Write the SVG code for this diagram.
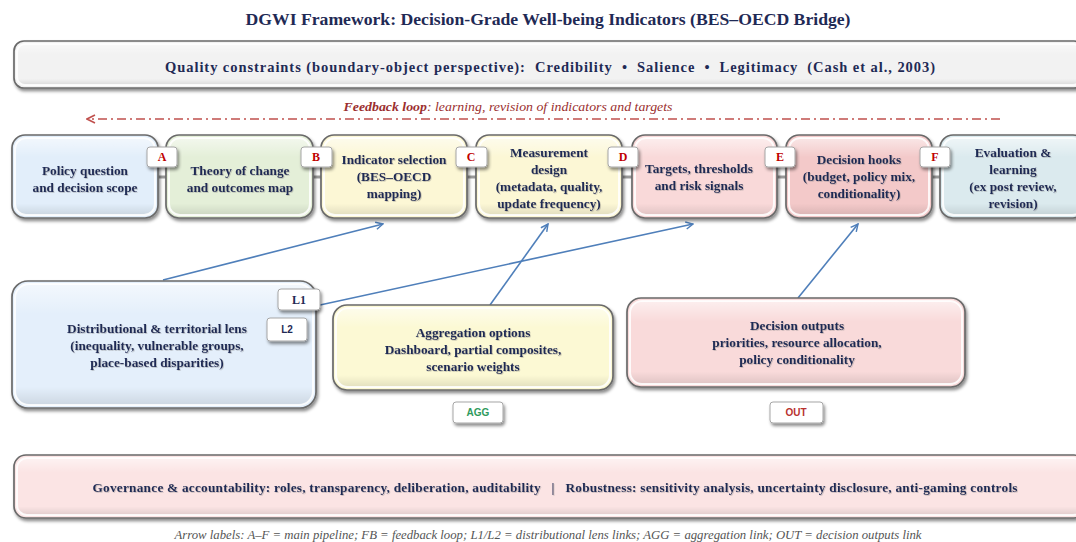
<svg xmlns="http://www.w3.org/2000/svg" width="1076" height="542" viewBox="0 0 1076 542">
  <defs>
    <filter id="shadow" x="-10%" y="-20%" width="125%" height="150%">
      <feDropShadow dx="1.5" dy="2.5" stdDeviation="1.8" flood-color="#000" flood-opacity="0.45"/>
    </filter>
    <filter id="tshadow" x="-5%" y="-20%" width="110%" height="150%">
      <feDropShadow dx="0.8" dy="0.8" stdDeviation="0.4" flood-color="#7a7a7a" flood-opacity="0.45"/>
    </filter>
    <linearGradient id="gloss" x1="0" y1="0" x2="0" y2="1">
      <stop offset="0" stop-color="#fff" stop-opacity="0.55"/>
      <stop offset="0.25" stop-color="#fff" stop-opacity="0"/>
      <stop offset="0.85" stop-color="#000" stop-opacity="0"/>
      <stop offset="1" stop-color="#000" stop-opacity="0.10"/>
    </linearGradient>
    <marker id="arrBlue" viewBox="0 0 10 10" refX="9" refY="5" markerWidth="9" markerHeight="9" markerUnits="userSpaceOnUse" orient="auto">
      <path d="M1,1 L9,5 L1,9" fill="none" stroke="#4f7fba" stroke-width="1.6"/>
    </marker>
    <marker id="arrRed" viewBox="0 0 10 10" refX="9" refY="5" markerWidth="10" markerHeight="10" markerUnits="userSpaceOnUse" orient="auto">
      <path d="M1,1 L9,5 L1,9" fill="none" stroke="#c0504d" stroke-width="1.6"/>
    </marker>
  </defs>
  <style>
    .box { stroke: #6a6a6a; stroke-width: 1.7; filter: url(#shadow); }
    .hl { fill: url(#gloss); stroke: #ffffff; stroke-opacity: 0.85; stroke-width: 2; }
    .t { font-family: "Liberation Serif", "Times New Roman", serif; font-weight: bold; fill: #1f2a55; text-anchor: middle; white-space: pre; }
    .bt { font-size: 13.3px; filter: url(#tshadow); }
    .tag { fill: #ffffff; stroke: #a6a6a6; stroke-width: 1; filter: url(#shadow); }
    .tagt { font-family: "Liberation Serif", "Times New Roman", serif; font-weight: bold; font-size: 12px; fill: #c00000; text-anchor: middle; }
    .lab { font-family: "Liberation Sans", Arial, sans-serif; font-weight: bold; font-size: 10px; text-anchor: middle; }
    .link { stroke: #4f7fba; stroke-width: 1.6; fill: none; marker-end: url(#arrBlue); }
    .stub { stroke: #9a9a9a; stroke-width: 3; }
  </style>

  <rect width="1076" height="542" fill="#ffffff"/>

  <!-- title -->
  <text class="t" x="548" y="25" font-size="16px" textLength="605" lengthAdjust="spacingAndGlyphs">DGWI Framework: Decision-Grade Well-being Indicators (BES–OECD Bridge)</text>

  <!-- quality constraints banner -->
  <g id="quality">
    <rect class="box" x="14" y="41" width="1070" height="47" rx="10" fill="#f2f2f2"/>
    <rect class="hl" x="17" y="44" width="1064" height="41" rx="8"/>
    <text class="t" x="550" y="72" font-size="14.5px" textLength="770" lengthAdjust="spacing" xml:space="preserve">Quality constraints (boundary-object perspective):  Credibility  •  Salience  •  Legitimacy  (Cash et al., 2003)</text>
  </g>

  <!-- connectors -->
  <g id="connectors">
    <!-- feedback loop -->
    <line x1="1000" y1="119" x2="87" y2="119" stroke="#c0504d" stroke-width="1.4" stroke-dasharray="9,4,2,4" marker-end="url(#arrRed)"/>
    <!-- pipeline stubs between stages -->
    <line class="stub" x1="155" y1="177" x2="170" y2="177"/>
    <line class="stub" x1="310" y1="177" x2="325" y2="177"/>
    <line class="stub" x1="464" y1="177" x2="480" y2="177"/>
    <line class="stub" x1="619" y1="177" x2="636" y2="177"/>
    <line class="stub" x1="774" y1="177" x2="790" y2="177"/>
    <line class="stub" x1="929" y1="177" x2="944" y2="177"/>
    <!-- lens, aggregation and output links -->
    <line class="link" x1="163" y1="280" x2="383" y2="224"/>
    <line class="link" x1="320" y1="305" x2="693" y2="224"/>
    <line class="link" x1="490" y1="305" x2="548" y2="224"/>
    <line class="link" x1="798" y1="298" x2="858" y2="224"/>
  </g>

  <!-- feedback label -->
  <text x="508" y="111" font-family="Liberation Serif, serif" font-style="italic" font-size="13px" fill="#9b2f2f" text-anchor="middle" textLength="329" lengthAdjust="spacingAndGlyphs"><tspan font-weight="bold">Feedback loop</tspan>: learning, revision of indicators and targets</text>

  <!-- pipeline stages -->
  <g id="stage-policy">
    <rect class="box" x="12" y="135" width="146" height="83" rx="13" fill="#e2eefa"/>
    <rect class="hl" x="15" y="138" width="140" height="77" rx="11"/>
    <text class="t bt" x="85" y="175">Policy question</text>
    <text class="t bt" x="85" y="192">and decision scope</text>
  </g>
  <g id="stage-theory">
    <rect class="box" x="166" y="135" width="147" height="83" rx="13" fill="#e4efd8"/>
    <rect class="hl" x="169" y="138" width="141" height="77" rx="11"/>
    <text class="t bt" x="240" y="175">Theory of change</text>
    <text class="t bt" x="240" y="192">and outcomes map</text>
  </g>
  <g id="stage-indicator">
    <rect class="box" x="321" y="135" width="146" height="83" rx="13" fill="#fcf7d5"/>
    <rect class="hl" x="324" y="138" width="140" height="77" rx="11"/>
    <text class="t bt" x="394" y="164">Indicator selection</text>
    <text class="t bt" x="394" y="181">(BES–OECD</text>
    <text class="t bt" x="394" y="198">mapping)</text>
  </g>
  <g id="stage-measurement">
    <rect class="box" x="476" y="135" width="146" height="83" rx="13" fill="#fcf7d5"/>
    <rect class="hl" x="479" y="138" width="140" height="77" rx="11"/>
    <text class="t bt" x="549" y="157">Measurement</text>
    <text class="t bt" x="549" y="174">design</text>
    <text class="t bt" x="549" y="191">(metadata, quality,</text>
    <text class="t bt" x="549" y="208">update frequency)</text>
  </g>
  <g id="stage-targets">
    <rect class="box" x="632" y="135" width="145" height="83" rx="13" fill="#f9d9d9"/>
    <rect class="hl" x="635" y="138" width="139" height="77" rx="11"/>
    <text class="t bt" x="699" y="173">Targets, thresholds</text>
    <text class="t bt" x="699" y="190">and risk signals</text>
  </g>
  <g id="stage-hooks">
    <rect class="box" x="786" y="135" width="146" height="83" rx="13" fill="#f3c9c9"/>
    <rect class="hl" x="789" y="138" width="140" height="77" rx="11"/>
    <text class="t bt" x="859" y="164">Decision hooks</text>
    <text class="t bt" x="859" y="181">(budget, policy mix,</text>
    <text class="t bt" x="859" y="198">conditionality)</text>
  </g>
  <g id="stage-evaluation">
    <rect class="box" x="940" y="135" width="146" height="83" rx="13" fill="#dbeaee"/>
    <rect class="hl" x="943" y="138" width="140" height="77" rx="11"/>
    <text class="t bt" x="1013" y="157">Evaluation &amp;</text>
    <text class="t bt" x="1013" y="174">learning</text>
    <text class="t bt" x="1013" y="191">(ex post review,</text>
    <text class="t bt" x="1013" y="208">revision)</text>
  </g>

  <!-- pipeline step tags -->
  <g id="tag-A"><rect class="tag" x="147" y="147" width="30" height="20" rx="3"/><text class="tagt" x="162" y="161">A</text></g>
  <g id="tag-B"><rect class="tag" x="301" y="147" width="31" height="20" rx="3"/><text class="tagt" x="316" y="161">B</text></g>
  <g id="tag-C"><rect class="tag" x="456" y="147" width="31" height="20" rx="3"/><text class="tagt" x="471" y="161">C</text></g>
  <g id="tag-D"><rect class="tag" x="608" y="147" width="30" height="20" rx="3"/><text class="tagt" x="623" y="161">D</text></g>
  <g id="tag-E"><rect class="tag" x="765" y="147" width="30" height="20" rx="3"/><text class="tagt" x="780" y="161">E</text></g>
  <g id="tag-F"><rect class="tag" x="920" y="147" width="30" height="20" rx="3"/><text class="tagt" x="935" y="161">F</text></g>

  <!-- distributional lens -->
  <g id="lens">
    <rect class="box" x="12" y="281" width="304" height="127" rx="16" fill="#e4effb"/>
    <rect class="hl" x="15" y="284" width="298" height="121" rx="14"/>
    <text class="t bt" x="157" y="333">Distributional &amp; territorial lens</text>
    <text class="t bt" x="157" y="350">(inequality, vulnerable groups,</text>
    <text class="t bt" x="157" y="367">place-based disparities)</text>
  </g>
  <g id="tag-L1"><rect class="tag" x="278" y="289" width="42" height="21" rx="3"/><text class="t" x="299" y="304" font-size="12px">L1</text></g>
  <g id="tag-L2"><rect class="tag" x="267" y="318" width="40" height="23" rx="3"/><text class="lab" x="287" y="333" fill="#1f2a55" font-weight="normal">L2</text></g>

  <!-- aggregation -->
  <g id="aggregation">
    <rect class="box" x="333" y="305" width="280" height="85" rx="14" fill="#fcf9d4"/>
    <rect class="hl" x="336" y="308" width="274" height="79" rx="12"/>
    <text class="t bt" x="473" y="337">Aggregation options</text>
    <text class="t bt" x="473" y="354">Dashboard, partial composites,</text>
    <text class="t bt" x="473" y="371">scenario weights</text>
  </g>
  <g id="tag-AGG"><rect class="tag" x="453" y="402" width="50" height="21" rx="3"/><text class="lab" x="478" y="416" fill="#2f9a5c">AGG</text></g>

  <!-- decision outputs -->
  <g id="outputs">
    <rect class="box" x="627" y="298" width="338" height="89" rx="14" fill="#f9dada"/>
    <rect class="hl" x="630" y="301" width="332" height="83" rx="12"/>
    <text class="t bt" x="797" y="330">Decision outputs</text>
    <text class="t bt" x="797" y="347">priorities, resource allocation,</text>
    <text class="t bt" x="797" y="364">policy conditionality</text>
  </g>
  <g id="tag-OUT"><rect class="tag" x="770" y="402" width="53" height="21" rx="3"/><text class="lab" x="796" y="416" fill="#b8312f">OUT</text></g>

  <!-- governance banner -->
  <g id="governance">
    <rect class="box" x="14" y="455" width="1072" height="63" rx="12" fill="#fbe4e4"/>
    <rect class="hl" x="17" y="458" width="1066" height="57" rx="10"/>
    <text class="t bt" x="555" y="492" textLength="925" lengthAdjust="spacing" xml:space="preserve">Governance &amp; accountability: roles, transparency, deliberation, auditability   |   Robustness: sensitivity analysis, uncertainty disclosure, anti-gaming controls</text>
  </g>

  <!-- legend -->
  <text x="548" y="539" font-family="Liberation Serif, serif" font-style="italic" font-size="12px" fill="#555555" text-anchor="middle" textLength="747" lengthAdjust="spacingAndGlyphs">Arrow labels: A–F = main pipeline; FB = feedback loop; L1/L2 = distributional lens links; AGG = aggregation link; OUT = decision outputs link</text>
</svg>
